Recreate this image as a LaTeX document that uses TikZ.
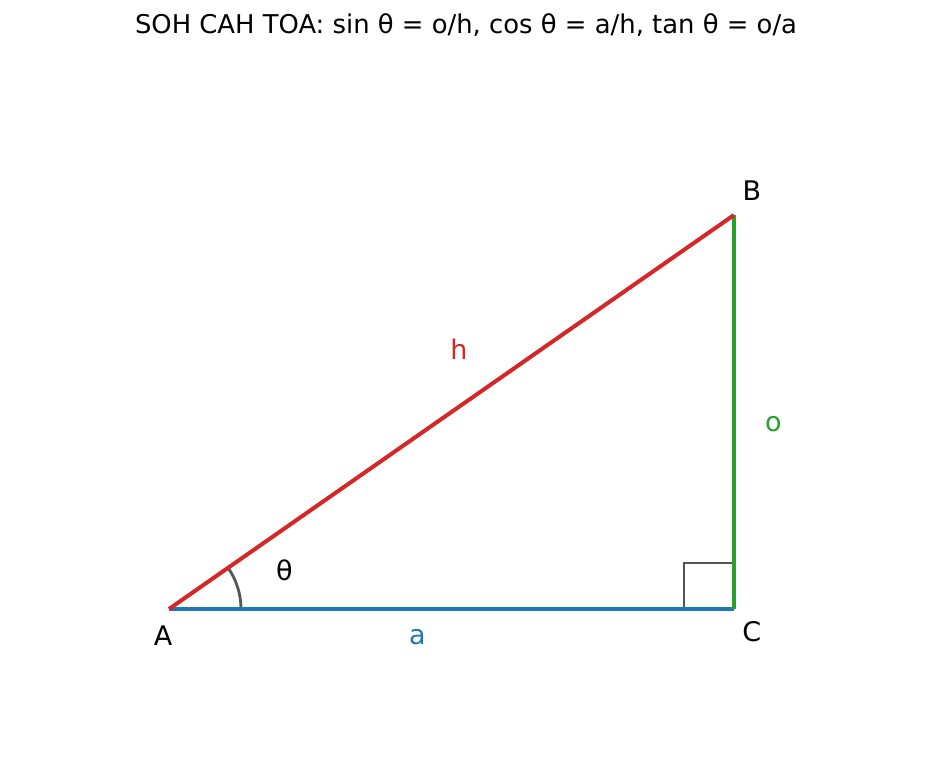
\documentclass[tikz,border=0pt]{standalone}
\usepackage{fontspec}
\setmainfont{DejaVu Sans}
\definecolor{tred}{HTML}{D62728}
\definecolor{tblue}{HTML}{1F77B4}
\definecolor{tgreen}{HTML}{2CA02C}
\definecolor{tgray}{HTML}{555555}
\begin{document}
\begin{tikzpicture}[x=1pt,y=-1pt,
  side/.style={line width=4pt},
  anglemark/.style={tgray,line width=2.8pt},
  lbl/.style={inner sep=0pt,font=\fontsize{27}{32}\selectfont},
  ttl/.style={inner sep=0pt,anchor=base,font=\fontsize{25.85}{30}\selectfont}]
\useasboundingbox[fill=white] (0,0) rectangle (931,781);
\coordinate (A) at (169,609);
\coordinate (B) at (734,215);
\coordinate (C) at (734,609);
\coordinate (R1) at (684,609);
\coordinate (R2) at (684,563);
\coordinate (R3) at (734,563);
% right angle mark
\draw[anglemark] (R1) -- (R2) -- (R3);
% angle arc
\draw[anglemark] (A) ++(0:72) arc[start angle=0,end angle=-34.9,radius=72];
% sides
\draw[side,tblue] (A) -- (C);
\draw[side,tgreen] (C) -- (B);
\draw[side,tred] (A) -- (B);
% labels
\node[lbl] (lA) at (163,635.5) {A};
\node[lbl] (lB) at (752,190.5) {B};
\node[lbl] (lC) at (751.7,632) {C};
\node[lbl,tblue] (la) at (417.5,637) {a};
\node[lbl,tgreen] (lo) at (773.3,424.5) {o};
\node[lbl,tred] (lh) at (459,349.5) {h};
\node[lbl] (lt) at (284.5,570.3) {θ};
\node[ttl] (title) at (466,34) {SOH CAH TOA: sin θ = o/h, cos θ = a/h, tan θ = o/a};
\end{tikzpicture}
\end{document}
